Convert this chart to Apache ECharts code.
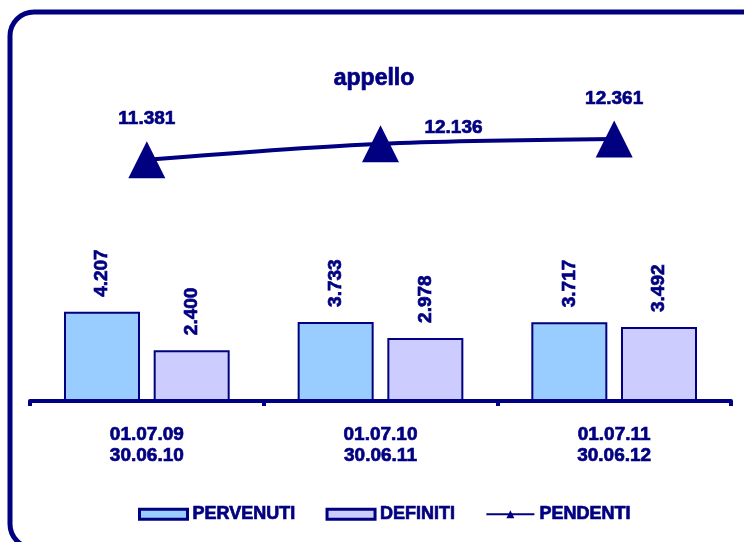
<!DOCTYPE html>
<html>
<head>
<meta charset="utf-8">
<script src="https://cdn.jsdelivr.net/npm/echarts@6/dist/echarts.min.js"></script>
<style>
  html, body { margin: 0; padding: 0; background: #fff; }
  #chart { width: 744px; height: 542px; }
</style>
</head>
<body>
<div id="chart"></div>
<script>
// dati
var categories = ['01.07.09\n30.06.10', '01.07.10\n30.06.11', '01.07.11\n30.06.12'];
var pervenuti = [4207, 3733, 3717];
var definiti = [2400, 2978, 3492];
var pendenti = [11381, 12136, 12361];

var navy = '#000080';
var font = '"Liberation Sans", Arial, sans-serif';

// 4207 -> 4.207
function fmt (v) {
  return String(v).replace(/\B(?=(\d{3})+(?!\d))/g, '.');
}

// testo un po' piu' marcato, come nell'originale
function boldText (size) {
  return {
    color: navy,
    fontSize: size,
    fontWeight: 'bold',
    fontFamily: font,
    textBorderColor: navy,
    textBorderWidth: 0.7
  };
}

// posizione delle etichette della linea (come nell'originale)
var lineLabelOffsets = [[0, -41], [73, -16], [0, -40]];

var myChart = echarts.init(document.getElementById('chart'));

var barLabel = Object.assign({
  show: true,
  position: 'top',
  rotate: 90,
  align: 'left',
  verticalAlign: 'middle',
  distance: 15,
  formatter: function (p) { return fmt(p.value); }
}, boldText(19));

var option = {
  backgroundColor: '#fff',
  animation: false,
  textStyle: { fontFamily: font },
  graphic: [{
    type: 'rect',
    shape: { x: 10, y: 12, width: 760, height: 536, r: 24 },
    style: { fill: 'none', stroke: navy, lineWidth: 5 }
  }],
  title: {
    text: 'appello',
    left: 369,
    textAlign: 'center',
    top: 62,
    textStyle: boldText(23)
  },
  legend: {
    left: 138,
    top: 505,
    padding: 0,
    itemWidth: 48,
    itemHeight: 10,
    itemGap: 30,
    textStyle: boldText(18),
    data: [
      { name: 'PERVENUTI', icon: 'rect', itemStyle: { borderWidth: 3 } },
      { name: 'DEFINITI', icon: 'rect', itemStyle: { borderWidth: 3 } },
      { name: 'PENDENTI' }
    ]
  },
  grid: { left: 30, right: 13, top: 62, bottom: 141 },
  xAxis: {
    type: 'category',
    data: categories,
    z: 3,
    axisLine: { lineStyle: { color: navy, width: 4 } },
    axisTick: { show: true, length: 5, lineStyle: { color: navy, width: 4 } },
    axisLabel: Object.assign({ margin: 23, lineHeight: 21 }, boldText(19))
  },
  yAxis: {
    type: 'value',
    min: 0,
    max: 16000,
    show: false,
    splitLine: { show: false }
  },
  series: [
    {
      name: 'PERVENUTI',
      type: 'bar',
      barWidth: 76,
      barGap: '18%',
      data: pervenuti,
      itemStyle: { color: '#99ccff', borderColor: navy, borderWidth: 2 },
      label: barLabel
    },
    {
      name: 'DEFINITI',
      type: 'bar',
      barWidth: 76,
      data: definiti,
      itemStyle: { color: '#ccccff', borderColor: navy, borderWidth: 2 },
      label: barLabel
    },
    {
      name: 'PENDENTI',
      type: 'line',
      smooth: 0.3,
      symbol: 'triangle',
      symbolSize: 37,
      z: 5,
      data: pendenti.map(function (v, i) {
        return { value: v, label: { offset: lineLabelOffsets[i] } };
      }),
      lineStyle: { color: navy, width: 4 },
      itemStyle: { color: navy },
      label: Object.assign({
        show: true,
        position: 'inside',
        formatter: function (p) { return fmt(p.value); }
      }, boldText(19))
    }
  ]
};

myChart.setOption(option);
</script>
</body>
</html>
